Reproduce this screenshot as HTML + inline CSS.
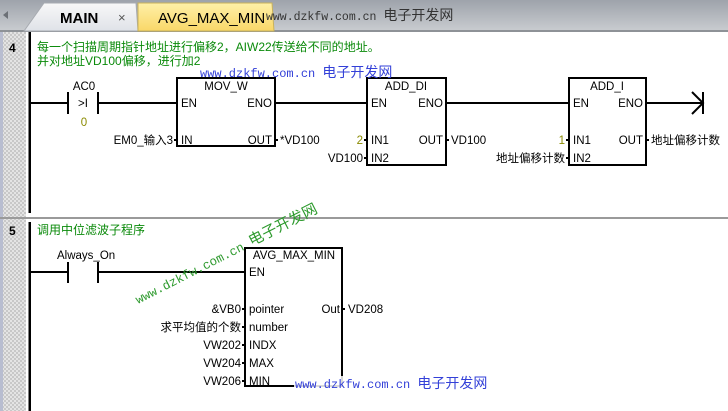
<!DOCTYPE html>
<html><head><meta charset="utf-8"><style>
html,body{margin:0;padding:0;background:#fff;}
svg{display:block;}
text{font-family:"Liberation Sans","Noto Sans CJK SC",sans-serif;font-size:11.5px;fill:#000;}
.g{fill:#0a8a0a;font-size:12px;}
.o{fill:#8a8a00;}
.w{fill:#3340d8;font-family:"Liberation Mono","Noto Sans CJK SC",monospace;font-size:12px;}
.wc{fill:#3340d8;font-size:14px;}
</style></head><body>
<svg width="728" height="411" viewBox="0 0 728 411" xmlns="http://www.w3.org/2000/svg">
<defs>
<pattern id="chk" width="4" height="4" patternUnits="userSpaceOnUse">
<rect width="4" height="4" fill="#e4e4e4"/><rect width="2" height="2" fill="#c8c8c8"/><rect x="2" y="2" width="2" height="2" fill="#c8c8c8"/>
</pattern>
<linearGradient id="bar" x1="0" y1="0" x2="0" y2="1"><stop offset="0" stop-color="#9ea3ab"/><stop offset="1" stop-color="#c9ccd0"/></linearGradient>
<linearGradient id="tab1" x1="0" y1="0" x2="0" y2="1"><stop offset="0" stop-color="#f8f8f8"/><stop offset="1" stop-color="#dfe2e8"/></linearGradient>
<linearGradient id="tab2" x1="0" y1="0" x2="0" y2="1"><stop offset="0" stop-color="#fff0a8"/><stop offset="1" stop-color="#f9d768"/></linearGradient>
</defs>
<rect x="0" y="0" width="728" height="31" fill="url(#bar)"/>
<rect x="0" y="30" width="728" height="2" fill="#8e9297"/>
<polygon points="3,15 8,11 8,19" fill="#6c7076"/>
<path d="M24,31 L44,3 L136,3 L138,31 Z" fill="url(#tab1)" stroke="#a7abb1"/>
<path d="M138,31 L138,3 L272,3 L274,31 Z" fill="url(#tab2)" stroke="#c9b25a"/>
<text x="60" y="23" style="font-size:15px;font-weight:bold">MAIN</text>
<text x="118" y="22" style="font-size:13px;fill:#555">×</text>
<text x="158" y="23" style="font-size:15px">AVG_MAX_MIN</text>
<text x="266" y="20" style="font-family:'Liberation Mono','Noto Sans CJK SC',monospace;font-size:11.5px;fill:#333">www.dzkfw.com.cn <tspan style="font-family:'Liberation Sans','Noto Sans CJK SC',sans-serif;font-size:14px">电子开发网</tspan></text>
<rect x="0" y="32" width="3" height="379" fill="#b8bdd0"/>
<rect x="3" y="32" width="23" height="379" fill="url(#chk)"/>
<rect x="0" y="217" width="728" height="2" fill="#9a9a9a"/>
<rect x="28.5" y="32" width="2.5" height="181" fill="#000"/>
<rect x="28.5" y="222" width="2.5" height="189" fill="#000"/>
<g stroke="#000" stroke-width="2" fill="none">
<line x1="31" y1="103" x2="68" y2="103"/>
<line x1="68" y1="92" x2="68" y2="114"/>
<line x1="98" y1="92" x2="98" y2="114"/>
<line x1="98" y1="103" x2="177" y2="103"/>
<rect x="177" y="78" width="98" height="68"/>
<line x1="275" y1="103" x2="367" y2="103"/>
<rect x="367" y="78" width="79" height="87"/>
<line x1="446" y1="103" x2="569" y2="103"/>
<rect x="569" y="78" width="77" height="87"/>
<line x1="646" y1="103" x2="703" y2="103"/>
<line x1="703" y1="92" x2="703" y2="114"/>
<polyline points="692,92 703,103 692,114"/>
<line x1="174" y1="140" x2="177" y2="140"/><line x1="275" y1="140" x2="278" y2="140"/>
<line x1="364" y1="140" x2="367" y2="140"/><line x1="364" y1="158" x2="367" y2="158"/><line x1="446" y1="140" x2="449" y2="140"/>
<line x1="566" y1="140" x2="569" y2="140"/><line x1="566" y1="158" x2="569" y2="158"/><line x1="646" y1="140" x2="649" y2="140"/>
<line x1="31" y1="272" x2="68" y2="272"/>
<line x1="68" y1="262" x2="68" y2="283"/>
<line x1="98" y1="262" x2="98" y2="283"/>
<line x1="98" y1="272" x2="245" y2="272"/>
<rect x="245" y="248" width="97" height="138"/>
<line x1="242" y1="309" x2="245" y2="309"/><line x1="242" y1="327" x2="245" y2="327"/><line x1="242" y1="345" x2="245" y2="345"/><line x1="242" y1="363" x2="245" y2="363"/><line x1="242" y1="381" x2="245" y2="381"/>
<line x1="342" y1="309" x2="345" y2="309"/>
</g>
<text x="9" y="52" style="font-weight:bold;font-size:12px">4</text>
<text x="37" y="51" class="g">每一个扫描周期指针地址进行偏移2，AIW22传送给不同的地址。</text>
<text x="37" y="65" class="g">并对地址VD100偏移，进行加2</text>
<text x="200" y="77" class="w">www.dzkfw.com.cn <tspan class="wc" style="font-family:'Liberation Sans','Noto Sans CJK SC',sans-serif">电子开发网</tspan></text>
<text x="84" y="90" text-anchor="middle">AC0</text>
<text x="83" y="107" text-anchor="middle">&gt;I</text>
<text x="84" y="126" text-anchor="middle" class="o">0</text>
<text x="226" y="90" text-anchor="middle">MOV_W</text>
<text x="181" y="107">EN</text><text x="272" y="107" text-anchor="end">ENO</text>
<text x="181" y="144">IN</text><text x="272" y="144" text-anchor="end">OUT</text>
<text x="173" y="144" text-anchor="end">EM0_输入3</text>
<text x="280" y="144">*VD100</text>
<text x="406" y="90" text-anchor="middle">ADD_DI</text>
<text x="371" y="107">EN</text><text x="443" y="107" text-anchor="end">ENO</text>
<text x="371" y="144">IN1</text><text x="443" y="144" text-anchor="end">OUT</text>
<text x="371" y="162">IN2</text>
<text x="363" y="144" text-anchor="end" class="o">2</text>
<text x="363" y="162" text-anchor="end">VD100</text>
<text x="451" y="144">VD100</text>
<text x="607" y="90" text-anchor="middle">ADD_I</text>
<text x="573" y="107">EN</text><text x="643" y="107" text-anchor="end">ENO</text>
<text x="573" y="144">IN1</text><text x="643" y="144" text-anchor="end">OUT</text>
<text x="573" y="162">IN2</text>
<text x="565" y="144" text-anchor="end" class="o">1</text>
<text x="565" y="162" text-anchor="end">地址偏移计数</text>
<text x="651" y="144">地址偏移计数</text>
<text x="9" y="235" style="font-weight:bold;font-size:12px">5</text>
<text x="37" y="234" class="g">调用中位滤波子程序</text>
<text x="57" y="259">Always_On</text>
<text x="294" y="259" text-anchor="middle">AVG_MAX_MIN</text>
<text x="249" y="276">EN</text>
<text x="249" y="313">pointer</text><text x="340" y="313" text-anchor="end">Out</text>
<text x="249" y="331">number</text>
<text x="249" y="349">INDX</text>
<text x="249" y="367">MAX</text>
<text x="249" y="385">MIN</text>
<text x="241" y="313" text-anchor="end">&amp;VB0</text>
<text x="241" y="331" text-anchor="end">求平均值的个数</text>
<text x="241" y="349" text-anchor="end">VW202</text>
<text x="241" y="367" text-anchor="end">VW204</text>
<text x="241" y="385" text-anchor="end">VW206</text>
<text x="348" y="313">VD208</text>
<rect x="294" y="376" width="200" height="14" fill="#fff" opacity="0.85"/>
<text x="295" y="388" class="w">www.dzkfw.com.cn <tspan class="wc" style="font-family:'Liberation Sans','Noto Sans CJK SC',sans-serif">电子开发网</tspan></text>
<text x="0" y="0" transform="translate(138,304) rotate(-27)" style="font-family:'Liberation Mono','Noto Sans CJK SC',monospace;font-size:12.5px;fill:#2e9a2e">www.dzkfw.com.cn <tspan style="font-family:'Liberation Sans','Noto Sans CJK SC',sans-serif;font-size:15px">电子开发网</tspan></text>
</svg>
</body></html>
